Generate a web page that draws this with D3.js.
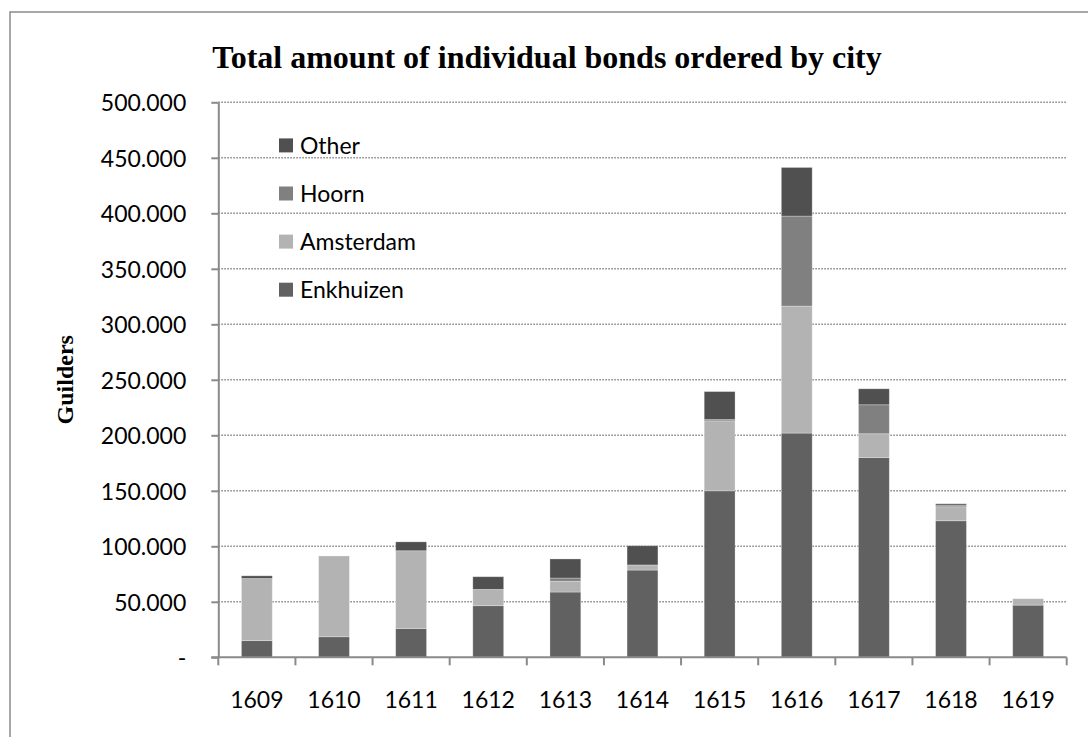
<!DOCTYPE html>
<html>
<head>
<meta charset="utf-8">
<script src="https://cdn.jsdelivr.net/npm/d3@7"></script>
<style>
  html, body { margin: 0; padding: 0; background: #fff; }
  svg { display: block; }
</style>
</head>
<body>
<svg id="chart" width="1088" height="737"></svg>
<script>
// Bonds ordered per year, in guilders, split by city
const years = ["1609", "1610", "1611", "1612", "1613", "1614", "1615", "1616", "1617", "1618", "1619"];
const enkhuizen = [15000, 18500, 26000, 46500, 58800, 78600, 150000, 202000, 180000, 123000, 47000];
const amsterdam = [56000, 72800, 70000, 14700, 9700, 4600, 63000, 114400, 21400, 12600, 5800];
const hoorn     = [0, 0, 0, 0, 2900, 0, 1200, 81100, 26100, 1500, 0];
const other     = [2400, 0, 8000, 11400, 17200, 17300, 25200, 43800, 14400, 1200, 0];
const seriesNames = ["Enkhuizen", "Amsterdam", "Hoorn", "Other"];
const yTicks = [0, 50000, 100000, 150000, 200000, 250000, 300000, 350000, 400000, 450000, 500000];

const colors = { Enkhuizen: "#616161", Amsterdam: "#b3b3b3", Hoorn: "#808080", Other: "#505050" };
const sansFont = "Lato, 'Open Sans', 'DejaVu Sans', sans-serif";
const serifFont = "'Liberation Serif', 'Times New Roman', serif";

const rows = years.map((y, i) => ({
  year: y,
  Enkhuizen: enkhuizen[i],
  Amsterdam: amsterdam[i],
  Hoorn: hoorn[i],
  Other: other[i]
}));

const svg = d3.select("#chart");
const plot = { left: 218.3, right: 1066.7, top: 102.3, bottom: 657.3 };

// Outer chart frame
svg.append("rect")
  .attr("x", 10).attr("y", 12)
  .attr("width", 1100).attr("height", 760)
  .attr("fill", "#fff")
  .attr("stroke", "#8a8a8a").attr("stroke-width", 1.5);

const x = d3.scaleBand()
  .domain(years)
  .range([plot.left, plot.right])
  .paddingInner(0.6)
  .paddingOuter(0.3);

const y = d3.scaleLinear()
  .domain([0, 500000])
  .range([plot.bottom, plot.top]);

const nl = d3.formatLocale({ decimal: ",", thousands: ".", grouping: [3], currency: ["", ""] });
const fmt = nl.format(",");

// Dotted gridlines
svg.append("g")
  .selectAll("line")
  .data(yTicks.filter(d => d > 0))
  .join("line")
  .attr("x1", plot.left).attr("x2", plot.right)
  .attr("y1", d => y(d)).attr("y2", d => y(d))
  .attr("stroke", "#8c8c8c")
  .attr("stroke-width", 1.4)
  .attr("stroke-dasharray", "1.6,1.4");

// Stacked bars
const stack = d3.stack().keys(seriesNames);
const layers = stack(rows);

svg.append("g")
  .selectAll("g")
  .data(layers)
  .join("g")
  .attr("fill", d => colors[d.key])
  .selectAll("rect")
  .data(d => d.filter(s => s[1] - s[0] > 0))
  .join("rect")
  .attr("x", d => x(d.data.year))
  .attr("width", x.bandwidth())
  .attr("y", d => y(d[1]))
  .attr("height", d => y(d[0]) - y(d[1]))
  .attr("stroke", "#ffffff")
  .attr("stroke-opacity", 0.35)
  .attr("stroke-width", 0.8);

// Y axis
const yAxis = d3.axisLeft(y)
  .tickValues(yTicks)
  .tickSizeInner(7)
  .tickSizeOuter(0)
  .tickPadding(25)
  .tickFormat(d => d === 0 ? "-" : fmt(d));

const gy = svg.append("g")
  .attr("transform", `translate(${plot.left},0)`)
  .call(yAxis);
gy.select(".domain").attr("stroke", "#8a8a8a").attr("stroke-width", 2);
gy.selectAll(".tick line").attr("stroke", "#8a8a8a").attr("stroke-width", 2);
gy.selectAll(".tick text")
  .attr("font-family", sansFont)
  .attr("font-size", 23)
  .attr("fill", "#000")
  .attr("dy", "0.36em");

// X axis: labels at band centres, ticks at band boundaries
const xAxis = d3.axisBottom(x).tickSize(0).tickPadding(0);
const gx = svg.append("g")
  .attr("transform", `translate(0,${plot.bottom})`)
  .call(xAxis);
gx.select(".domain").remove();
gx.selectAll(".tick text")
  .attr("font-family", sansFont)
  .attr("font-size", 23)
  .attr("fill", "#000")
  .attr("y", 51)
  .attr("dy", 0);

const step = x.step();
const boundaries = d3.range(years.length + 1).map(i => x.range()[0] + i * step);
gx.append("line")
  .attr("x1", plot.left - 7).attr("x2", plot.right)
  .attr("y1", 0).attr("y2", 0)
  .attr("stroke", "#8a8a8a").attr("stroke-width", 2);
gx.selectAll(".bound")
  .data(boundaries)
  .join("line")
  .attr("class", "bound")
  .attr("x1", d => d).attr("x2", d => d)
  .attr("y1", 0).attr("y2", 8)
  .attr("stroke", "#8a8a8a").attr("stroke-width", 2);

// Title
svg.append("text")
  .attr("x", 547).attr("y", 68)
  .attr("text-anchor", "middle")
  .attr("font-family", serifFont)
  .attr("font-weight", "bold")
  .attr("font-size", 32)
  .attr("fill", "#000")
  .text("Total amount of individual bonds ordered by city");

// Y axis title
svg.append("text")
  .attr("transform", `translate(73,${(plot.top + plot.bottom) / 2}) rotate(-90)`)
  .attr("text-anchor", "middle")
  .attr("font-family", serifFont)
  .attr("font-weight", "bold")
  .attr("font-size", 24)
  .attr("fill", "#000")
  .text("Guilders");

// Legend (top series listed first)
const legendOrder = seriesNames.slice().reverse();
const legend = svg.append("g")
  .selectAll("g")
  .data(legendOrder)
  .join("g")
  .attr("transform", (d, i) => `translate(279,${145.4 + i * 48.1})`);
legend.append("rect")
  .attr("x", 0).attr("y", -7)
  .attr("width", 14).attr("height", 14)
  .attr("fill", d => colors[d]);
legend.append("text")
  .attr("x", 21).attr("y", 0)
  .attr("dy", "0.36em")
  .attr("font-family", sansFont)
  .attr("font-size", 23)
  .attr("fill", "#000")
  .text(d => d);
</script>
</body>
</html>
